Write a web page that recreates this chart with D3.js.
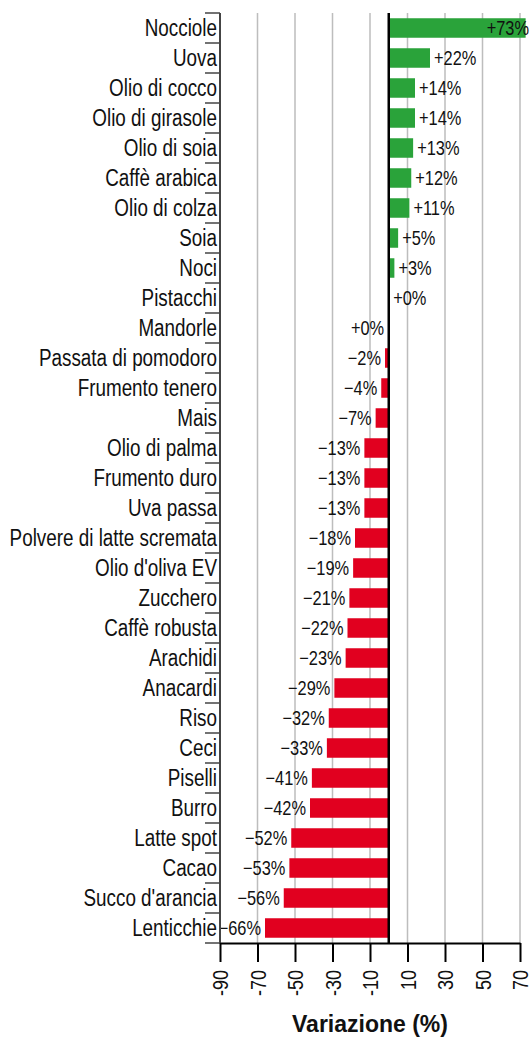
<!DOCTYPE html>
<html lang="it">
<head>
    <meta charset="UTF-8">
    <title>Variazione prezzi materie prime</title>
    <script src="https://d3js.org/d3.v7.min.js"></script>
    <style>
        body { margin: 0; background: #fff; }
        svg { display: block; }
        .cat { font-family: "Liberation Sans", Arial, sans-serif; font-size: 23px; fill: #111; }
        .val { font-family: "Liberation Sans", Arial, sans-serif; font-size: 20px; fill: #111; }
        .xaxis text { font-family: "Liberation Sans", Arial, sans-serif; font-size: 22px; fill: #111; }
        .title { font-family: "Liberation Sans", Arial, sans-serif; font-size: 23px; font-weight: bold; fill: #111; }
    </style>
</head>
<body>
    <div id="chart"></div>
    <script>
        // Data
        const categories = [
            'Nocciole', 'Uova', 'Olio di cocco', 'Olio di girasole', 'Olio di soia',
            'Caffè arabica', 'Olio di colza', 'Soia', 'Noci', 'Pistacchi',
            'Mandorle', 'Passata di pomodoro', 'Frumento tenero', 'Mais', 'Olio di palma',
            'Frumento duro', 'Uva passa', 'Polvere di latte scremata', "Olio d'oliva EV", 'Zucchero',
            'Caffè robusta', 'Arachidi', 'Anacardi', 'Riso', 'Ceci',
            'Piselli', 'Burro', 'Latte spot', 'Cacao', "Succo d'arancia", 'Lenticchie'
        ];
        const values = [
            73, 22, 14, 14, 13,
            12, 11, 5, 3, 0.2,
            -0.3, -2, -4, -7, -13,
            -13, -13, -18, -19, -21,
            -22, -23, -29, -32, -33,
            -41, -42, -52, -53, -56, -66
        ];
        const xTicks = [-90, -70, -50, -30, -10, 10, 30, 50, 70];

        const W = 530, H = 1037;
        const mLeft = 220, mRight = 520, mTop = 13, mBottom = 943;
        const squeeze = 0.82; // condensed look for the labels

        const svg = d3.select('#chart').append('svg')
            .attr('width', W)
            .attr('height', H);

        const x = d3.scaleLinear().domain([-90, 70]).range([mLeft, mRight]);
        const y = d3.scaleBand().domain(categories).range([mTop, mBottom])
            .paddingInner(0.35).paddingOuter(0.175);

        // Gridlines
        svg.append('g').selectAll('line')
            .data(xTicks)
            .enter().append('line')
            .attr('x1', d => x(d)).attr('x2', d => x(d))
            .attr('y1', mTop).attr('y2', mBottom)
            .attr('stroke', '#bdbdbd')
            .attr('stroke-width', 1.5);

        // Bars
        svg.append('g').selectAll('rect')
            .data(categories)
            .enter().append('rect')
            .attr('x', (d, i) => Math.min(x(0), x(values[i])))
            .attr('y', d => y(d))
            .attr('width', (d, i) => Math.abs(x(values[i]) - x(0)))
            .attr('height', y.bandwidth())
            .attr('fill', (d, i) => values[i] >= 0 ? '#2aa33a' : '#e1001f');

        // Value labels
        const fmt = v => {
            const r = Math.round(v);
            return (r < 0 ? '\u2212' + Math.abs(r) : '+' + Math.abs(r)) + '%';
        };
        svg.append('g').selectAll('text')
            .data(categories)
            .enter().append('text')
            .attr('class', 'val')
            .attr('transform', (d, i) => {
                const v = values[i];
                let tx;
                if (v >= 0) tx = x(v) + 40 > W ? W - 1 : x(v) + 4;
                else tx = x(v) - 4;
                return `translate(${tx},${y(d) + y.bandwidth() / 2 + 7}) scale(${squeeze},1)`;
            })
            .attr('text-anchor', (d, i) => {
                const v = values[i];
                if (v >= 0) return x(v) + 40 > W ? 'end' : 'start';
                return 'end';
            })
            .text((d, i) => fmt(values[i]));

        // Zero line
        svg.append('line')
            .attr('x1', x(0)).attr('x2', x(0))
            .attr('y1', mTop).attr('y2', mBottom)
            .attr('stroke', '#000')
            .attr('stroke-width', 2.5);

        // Left axis: line and ticks between categories
        const step = y.step();
        const bounds = categories.map(c => y(c) - step * 0.175);
        bounds.push(mBottom);
        svg.append('g').selectAll('line')
            .data(bounds)
            .enter().append('line')
            .attr('x1', mLeft - 15).attr('x2', mLeft)
            .attr('y1', d => d).attr('y2', d => d)
            .attr('stroke', '#444')
            .attr('stroke-width', 1.5);
        svg.append('line')
            .attr('x1', mLeft).attr('x2', mLeft)
            .attr('y1', mTop).attr('y2', mBottom)
            .attr('stroke', '#444')
            .attr('stroke-width', 2);

        // Category labels
        svg.append('g').selectAll('text')
            .data(categories)
            .enter().append('text')
            .attr('class', 'cat')
            .attr('transform', d => `translate(${mLeft - 3},${y(d) + y.bandwidth() / 2 + 8}) scale(${squeeze},1)`)
            .attr('text-anchor', 'end')
            .text(d => d);

        // Bottom axis
        const xAxis = svg.append('g')
            .attr('class', 'xaxis')
            .attr('transform', `translate(0,${mBottom})`)
            .call(d3.axisBottom(x).tickValues(xTicks).tickSize(19).tickSizeOuter(0)
                .tickFormat(d => d));
        xAxis.select('.domain').attr('stroke', '#000').attr('stroke-width', 2);
        xAxis.selectAll('.tick line').attr('stroke', '#000').attr('stroke-width', 2);
        xAxis.selectAll('.tick text')
            .attr('transform', `rotate(-90) translate(-27,0) scale(${squeeze},1)`)
            .attr('text-anchor', 'end')
            .attr('x', 0)
            .attr('y', 0)
            .attr('dy', '0.35em');

        // Axis title
        svg.append('text')
            .attr('class', 'title')
            .attr('x', (mLeft + mRight) / 2)
            .attr('y', 1032)
            .attr('text-anchor', 'middle')
            .text('Variazione (%)');
    </script>
</body>
</html>
